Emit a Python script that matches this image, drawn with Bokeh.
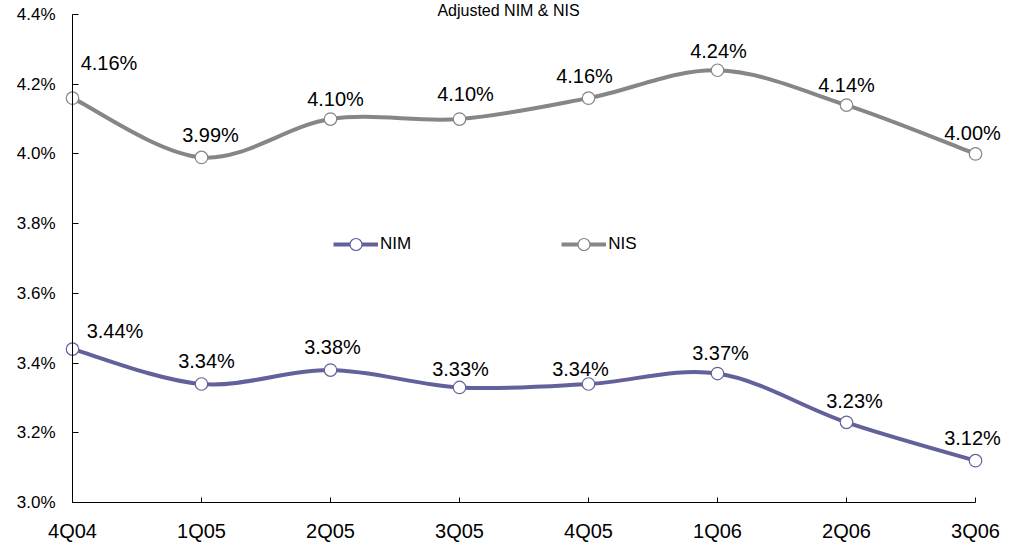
from bokeh.plotting import figure
from bokeh.models import (Range1d, FixedTicker, PrintfTickFormatter, LinearAxis,
                          Legend, LegendItem, LabelSet, ColumnDataSource, Label)
from bokeh.core.properties import value
from bokeh.embed import file_html
from bokeh.resources import INLINE

# ---- data ----
CATEGORIES = ["4Q04", "1Q05", "2Q05", "3Q05", "4Q05", "1Q06", "2Q06", "3Q06"]
NIM = [3.44, 3.34, 3.38, 3.33, 3.34, 3.37, 3.23, 3.12]
NIS = [4.16, 3.99, 4.10, 4.10, 4.16, 4.24, 4.14, 4.00]
Y_TICKS = [3.0, 3.2, 3.4, 3.6, 3.8, 4.0, 4.2, 4.4]
TITLE = "Adjusted NIM & NIS"

# label placement (screen px offsets from each point)
NIS_DX = [36.5, 9, 5, 6, -4, 1, 0, -3]
NIS_DY = [35, 22.5, 20, 25, 22, 19.5, 20, 21]
NIM_DX = [42.5, 5, 2, 1, -8, 3, 8, -3]
NIM_DY = [18, 22.5, 23, 18.5, 14.5, 21, 21, 23]

NIM_COLOR = "#62619b"
NIS_COLOR = "#868686"
FONT = "Liberation Sans"

W, H = 1017, 544
# plot box (pixels): category axis from x=72 to x=975, value axis from y=502 (3.0) to y=14 (4.4)
AX_L, AX_R, AX_T, AX_B = 72, 975, 14, 502

xs = list(range(len(CATEGORIES)))
n_int = len(CATEGORIES) - 1
ymin, ymax = Y_TICKS[0], Y_TICKS[-1]
sx = (AX_R - AX_L) / n_int
sy = (AX_B - AX_T) / (ymax - ymin)
x_range = Range1d(-AX_L / sx, n_int + (W - AX_R) / sx)
y_range = Range1d(ymin - (H - AX_B) / sy, ymax + AX_T / sy)

p = figure(width=W, height=H, title=None, x_range=x_range, y_range=y_range,
           output_backend="svg", toolbar_location=None,
           x_axis_type=None, y_axis_type=None,
           min_border=0)
p.grid.visible = False
p.outline_line_color = None
p.background_fill_color = "white"
p.border_fill_color = "white"

yaxis = LinearAxis(ticker=FixedTicker(ticks=Y_TICKS),
                   formatter=PrintfTickFormatter(format="%.1f%%"),
                   fixed_location=0, bounds=(ymin, ymax),
                   major_tick_in=6, major_tick_out=0,
                   minor_tick_in=0, minor_tick_out=0,
                   major_label_standoff=17,
                   major_label_text_font=FONT,
                   major_label_text_font_size="17px",
                   major_label_text_color="black",
                   axis_line_color="black", major_tick_line_color="black")
p.add_layout(yaxis, "left")

xaxis = LinearAxis(ticker=FixedTicker(ticks=xs),
                   major_label_overrides={i: c for i, c in enumerate(CATEGORIES)},
                   fixed_location=ymin, bounds=(0, n_int),
                   major_tick_in=5, major_tick_out=0,
                   minor_tick_in=0, minor_tick_out=0,
                   major_label_standoff=17,
                   major_label_text_font=FONT,
                   major_label_text_font_size="20px",
                   major_label_text_color="black",
                   axis_line_color="black", major_tick_line_color="black")
p.add_layout(xaxis, "below")


def smooth_segments(x, y):
    n = len(x)
    seg = dict(x0=[], y0=[], x1=[], y1=[], cx0=[], cy0=[], cx1=[], cy1=[])
    for i in range(n - 1):
        i0 = max(i - 1, 0)
        i3 = min(i + 2, n - 1)
        seg["x0"].append(x[i]); seg["y0"].append(y[i])
        seg["x1"].append(x[i + 1]); seg["y1"].append(y[i + 1])
        seg["cx0"].append(x[i] + (x[i + 1] - x[i0]) / 6)
        seg["cy0"].append(y[i] + (y[i + 1] - y[i0]) / 6)
        seg["cx1"].append(x[i + 1] - (x[i3] - x[i]) / 6)
        seg["cy1"].append(y[i + 1] - (y[i3] - y[i]) / 6)
    return seg


legend_items = []
for name, vals, color, dx, dy in [("NIM", NIM, NIM_COLOR, NIM_DX, NIM_DY),
                                  ("NIS", NIS, NIS_COLOR, NIS_DX, NIS_DY)]:
    seg = ColumnDataSource(smooth_segments(xs, vals))
    p.bezier(x0="x0", y0="y0", x1="x1", y1="y1", cx0="cx0", cy0="cy0",
             cx1="cx1", cy1="cy1", source=seg, line_color=color,
             line_width=4, line_cap="round")
    dummy = p.line(x=[float("nan")], y=[float("nan")], line_color=color, line_width=4)
    pts = p.scatter(x=xs, y=vals, size=12.5, fill_color="white",
                    line_color=color, line_width=1.2)
    src = ColumnDataSource(dict(x=xs, y=vals,
                                label=["%.2f%%" % v for v in vals],
                                dx=dx, dy=dy))
    p.add_layout(LabelSet(x="x", y="y", text="label", x_offset="dx",
                          y_offset="dy", source=src, text_align="center",
                          text_baseline="middle", text_font=value(FONT),
                          text_font_size=value("20px"), text_color="black"))
    legend_items.append(LegendItem(label=name, renderers=[dummy, pts]))

legend = Legend(items=legend_items, orientation="horizontal",
                location=(333, H - 259), glyph_width=45, glyph_height=30,
                label_standoff=2, spacing=150, padding=0, margin=0,
                border_line_color=None, background_fill_alpha=0,
                label_text_font=FONT, label_text_font_size="17px",
                label_text_color="black")
p.add_layout(legend, "center")

p.add_layout(Label(x=3.38, y=ymax, y_offset=AX_T - 1, text=TITLE, text_align="center",
                   text_baseline="top", text_font=FONT,
                   text_font_size="16px", text_color="black"))

open("out.html", "w").write(file_html(p, INLINE))
